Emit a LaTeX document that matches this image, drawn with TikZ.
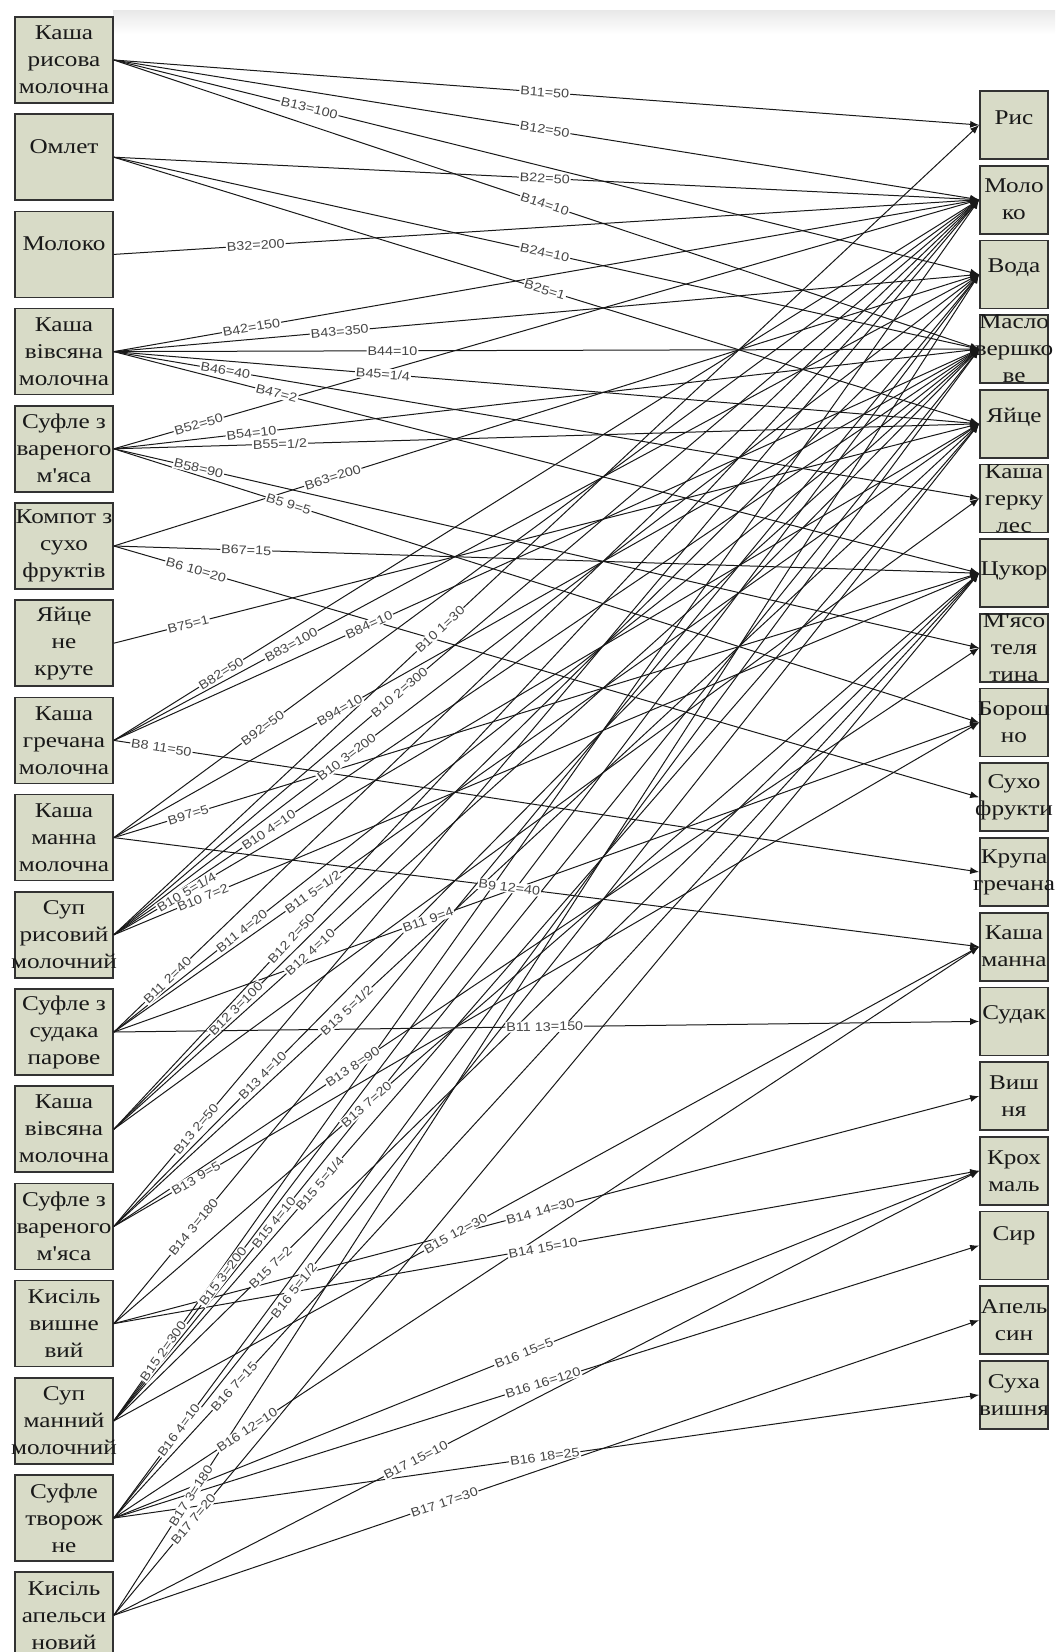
\documentclass[tikz,border=0pt]{standalone}
\usepackage{fontspec}
\usetikzlibrary{arrows.meta}
\newfontfamily\boxfont[FakeStretch=1.2]{Liberation Serif}
\newfontfamily\labfont[FakeStretch=1.15]{Liberation Sans}
\definecolor{boxfill}{RGB}{216,219,199}
\definecolor{boxline}{RGB}{50,50,50}
\definecolor{labtext}{RGB}{70,70,70}
\definecolor{edgecol}{RGB}{25,25,25}

% source/target/label position/label text
\def\edgelist{%
1/1/.498/{B11=50},
1/2/.498/{B12=50},
1/3/.226/{B13=100},
1/4/.498/{B14=10},
2/2/.498/{B22=50},
2/4/.498/{B24=10},
2/5/.498/{B25=1},
3/2/.164/{B32=200},
4/2/.159/{B42=150},
4/3/.261/{B43=350},
4/4/.322/{B44=10},
4/5/.311/{B45=1/4},
4/6/.129/{B46=40},
4/7/.188/{B47=2},
5/2/.098/{B52=50},
5/4/.159/{B54=10},
5/5/.192/{B55=1/2},
5/8/.098/{B58=90},
5/9/.202/{B5 9=5},
6/3/.253/{B63=200},
6/7/.153/{B67=15},
6/10/.095/{B6 10=20},
7/5/.086/{B75=1},
8/2/.124/{B82=50},
8/3/.205/{B83=100},
8/4/.295/{B84=10},
8/11/.055/{B8 11=50},
9/2/.172/{B92=50},
9/4/.261/{B94=10},
9/7/.086/{B97=5},
9/12/.457/{B9 12=40},
10/1/.377/{B10 1=30},
10/2/.330/{B10 2=300},
10/3/.269/{B10 3=200},
10/4/.179/{B10 4=10},
10/5/.084/{B10 5=1/4},
10/7/.103/{B10 7=2},
11/2/.062/{B11 2=40},
11/4/.148/{B11 4=20},
11/5/.230/{B11 5=1/2},
11/9/.363/{B11 9=4},
11/13/.498/{B11 13=150},
12/2/.205/{B12 2=50},
12/3/.141/{B12 3=100},
12/4/.227/{B12 4=10},
13/2/.095/{B13 2=50},
13/4/.172/{B13 4=10},
13/5/.269/{B13 5=1/2},
13/8/.276/{B13 8=90},
13/9/.095/{B13 9=5},
14/3/.092/{B14 3=180},
14/7/.292/{B13 7=20},
14/14/.493/{B14 14=30},
14/15/.496/{B14 15=10},
15/2/.057/{B15 2=300},
15/3/.126/{B15 3=200},
15/4/.185/{B15 4=10},
15/5/.238/{B15 5=1/4},
15/7/.181/{B15 7=2},
15/12/.395/{B15 12=30},
16/4/.075/{B16 4=10},
16/5/.208/{B16 5=1/2},
16/7/.139/{B16 7=15},
16/12/.154/{B16 12=10},
16/15/.474/{B16 15=5},
16/16/.496/{B16 16=120},
16/18/.498/{B16 18=25},
17/3/.089/{B17 3=180},
17/7/.092/{B17 7=20},
17/15/.349/{B17 15=10},
17/17/.382/{B17 17=30}%
}

\begin{document}
\begin{tikzpicture}[x=1pt,y=-1pt,
  dish/.style={draw=boxline,line width=1.7pt,fill=boxfill,minimum width=98pt,minimum height=86pt,inner sep=0pt},
  ingr/.style={draw=boxline,line width=1.7pt,fill=boxfill,minimum width=68pt,minimum height=68pt,inner sep=0pt},
  boxtext/.style={font=\boxfont\fontsize{21}{27}\selectfont,align=center,inner sep=0pt,text=black!90},
  edge/.style={draw=edgecol,line width=1pt,-{Latex[length=9pt,width=7pt]}},
  lab/.style={font=\labfont\fontsize{12.5}{13}\selectfont,text=labtext,fill=white,inner sep=1pt,sloped}
]
\useasboundingbox (0,0) rectangle (1055,1652);
\clip (0,0) rectangle (1055,1652);
\fill[white] (0,0) rectangle (1055,1652);
\shade[top color=black!9,bottom color=white] (113,10) rectangle (1055,34);

% dishes (left column)
\foreach \k/\txt/\dy in {
  1/{Каша\\рисова\\молочна}/0,
  2/{Омлет}/11,
  3/{Молоко}/11,
  4/{Каша\\вівсяна\\молочна}/0,
  5/{Суфле з\\вареного\\м'яса}/0,
  6/{Компот з\\сухо\\фруктів}/0,
  7/{Яйце\\не\\круте}/0,
  8/{Каша\\гречана\\молочна}/0,
  9/{Каша\\манна\\молочна}/0,
  10/{Суп\\рисовий\\молочний}/0,
  11/{Суфле з\\судака\\парове}/0,
  12/{Каша\\вівсяна\\молочна}/0,
  13/{Суфле з\\вареного\\м'яса}/0,
  14/{Кисіль\\вишне\\вий}/0,
  15/{Суп\\манний\\молочний}/0,
  16/{Суфле\\творож\\не}/0,
  17/{Кисіль\\апельси\\новий}/0} {
  \node[dish] (L\k) at (64,{60+97.2*(\k-1)}) {};
  \node[boxtext,yshift=\dy pt] (Lt\k) at (L\k) {\txt};
}

% ingredients (right column)
\foreach \k/\txt/\dy in {
  1/{Рис}/7,
  2/{Моло\\ко}/0,
  3/{Вода}/7,
  4/{Масло\\вершко\\ве}/0,
  5/{Яйце}/6,
  6/{Каша\\герку\\лес}/0,
  7/{Цукор}/2,
  8/{М'ясо\\теля\\тина}/0,
  9/{Борош\\но}/0,
  10/{Сухо\\фрукти}/0,
  11/{Крупа\\гречана}/0,
  12/{Каша\\манна}/0,
  13/{Судак}/7,
  14/{Виш\\ня}/0,
  15/{Крох\\маль}/0,
  16/{Сир}/10,
  17/{Апель\\син}/0,
  18/{Суха\\вишня}/0} {
  \node[ingr] (R\k) at (1014,{125+74.7*(\k-1)}) {};
  \node[boxtext,yshift=\dy pt] (Rt\k) at (R\k) {\txt};
}

% connectors
\foreach \src/\tgt/\pp/\lbl in \edgelist {
  \draw[edge] (L\src.east) -- (R\tgt.west);
}
\draw[edge] (L12.east) -- (R6.west);

% quantity labels on top of the connectors
\foreach \src/\tgt/\pp/\lbl in \edgelist {
  \path (L\src.east) -- node[lab,pos=\pp] (Q\src-\tgt) {\lbl} (R\tgt.west);
}
\end{tikzpicture}
\end{document}
